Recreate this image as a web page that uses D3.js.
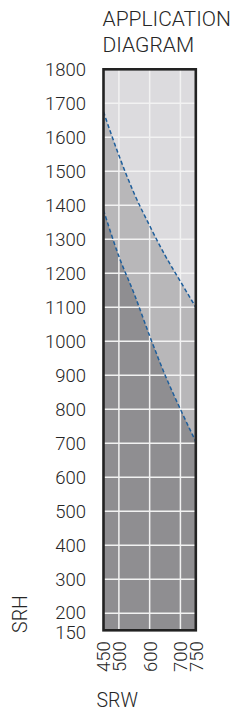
<!DOCTYPE html>
<html>
<head>
<meta charset="utf-8">
<script src="https://cdn.jsdelivr.net/npm/d3@7"></script>
<style>
  body { margin: 0; background: #fff; }
  text { font-family: Roboto, "DejaVu Sans", sans-serif; font-weight: 300; fill: #262626; }
</style>
</head>
<body>
<svg id="chart" width="241" height="710"></svg>
<script>
// chart values
const srwTicks = [450, 500, 600, 700, 750];
const srhTicks = [150, 200, 300, 400, 500, 600, 700, 800, 900, 1000, 1100, 1200, 1300, 1400, 1500, 1600, 1700, 1800];
const srwGrid = [500, 600, 700];
const srhGrid = [200, 300, 400, 500, 600, 700, 800, 900, 1000, 1100, 1200, 1300, 1400, 1500, 1600, 1700];
const curveSRW = [450, 500, 550, 600, 650, 700, 750];
const upperSRH = [1675, 1547, 1434, 1340, 1253, 1176, 1100];
const lowerSRH = [1386, 1250, 1139, 1016, 901, 800, 705];
const titleLines = ["APPLICATION", "DIAGRAM"];

const svg = d3.select("#chart");

const x = d3.scaleLinear().domain([450, 750]).range([103.5, 195.8]);
const y = d3.scaleLinear().domain([150, 1800]).range([630.3, 69.3]);

const upper = curveSRW.map((d, i) => ({ srw: d, srh: upperSRH[i] }));
const lower = curveSRW.map((d, i) => ({ srw: d, srh: lowerSRH[i] }));

// background (allowed zone, lightest)
svg.append("rect")
  .attr("x", x(450)).attr("y", y(1800))
  .attr("width", x(750) - x(450)).attr("height", y(150) - y(1800))
  .attr("fill", "#dcdbde");

const area = d3.area()
  .x(d => x(d.srw))
  .y0(y(150))
  .y1(d => y(d.srh))
  .curve(d3.curveMonotoneX);

svg.append("path").datum(upper).attr("d", area).attr("fill", "#b8b7b9");
svg.append("path").datum(lower).attr("d", area).attr("fill", "#8f8e91");

// grid
svg.append("g").selectAll("line").data(srhGrid).join("line")
  .attr("x1", x(450)).attr("x2", x(750))
  .attr("y1", d => y(d)).attr("y2", d => y(d))
  .attr("stroke", "#f2f2f2").attr("stroke-width", 1.5);
svg.append("g").selectAll("line").data(srwGrid).join("line")
  .attr("x1", d => x(d)).attr("x2", d => x(d))
  .attr("y1", y(1800)).attr("y2", y(150))
  .attr("stroke", "#f2f2f2").attr("stroke-width", 1.5);

// dashed limit lines
const line = d3.line()
  .x(d => x(d.srw))
  .y(d => y(d.srh))
  .curve(d3.curveMonotoneX);

[upper, lower].forEach(data => {
  svg.append("path").datum(data)
    .attr("d", line)
    .attr("fill", "none")
    .attr("stroke", "#1f5f9c")
    .attr("stroke-width", 1.5)
    .attr("stroke-dasharray", "4,2.5");
});

// frame
svg.append("rect")
  .attr("x", x(450)).attr("y", y(1800))
  .attr("width", x(750) - x(450)).attr("height", y(150) - y(1800))
  .attr("fill", "none")
  .attr("stroke", "#222")
  .attr("stroke-width", 2.6);

// y axis
const yAxis = svg.append("g")
  .attr("transform", `translate(${x(450)},0)`)
  .call(d3.axisLeft(y).tickValues(srhTicks).tickSize(0).tickPadding(17.5).tickFormat(d3.format("d")));
yAxis.select(".domain").remove();
yAxis.selectAll("text")
  .style("font-family", "Roboto, sans-serif")
  .style("font-weight", 300)
  .style("font-size", "18.5px")
  .attr("fill", "#262626");
// 150 sits right under 200, lift it a hair so they don't collide
yAxis.selectAll(".tick").filter(d => d === 150).select("text").attr("dy", "0.42em");
yAxis.selectAll(".tick").filter(d => d === 200).select("text").attr("dy", "0.26em");

// x axis, labels turned upright
const xAxis = svg.append("g")
  .attr("transform", `translate(0,${y(150)})`)
  .call(d3.axisBottom(x).tickValues(srwTicks).tickSize(0).tickFormat(d3.format("d")));
xAxis.select(".domain").remove();
xAxis.selectAll("text")
  .style("font-family", "Roboto, sans-serif")
  .style("font-weight", 300)
  .style("font-size", "18.5px")
  .attr("fill", "#262626")
  .attr("transform", "rotate(-90)")
  .attr("text-anchor", "end")
  .attr("x", -11)
  .attr("y", 0)
  .attr("dy", "0.35em");

// title
svg.append("g").selectAll("text").data(titleLines).join("text")
  .attr("x", 102.5)
  .attr("y", (d, i) => 26 + i * 25.7)
  .style("font-size", "21px")
  .text(d => d);

// axis names
svg.append("text")
  .attr("transform", "translate(26.5,614) rotate(-90)")
  .attr("text-anchor", "middle")
  .style("font-size", "19.5px")
  .text("SRH");

svg.append("text")
  .attr("x", 96.5)
  .attr("y", 706.5)
  .style("font-size", "19.5px")
  .text("SRW");
</script>
</body>
</html>
